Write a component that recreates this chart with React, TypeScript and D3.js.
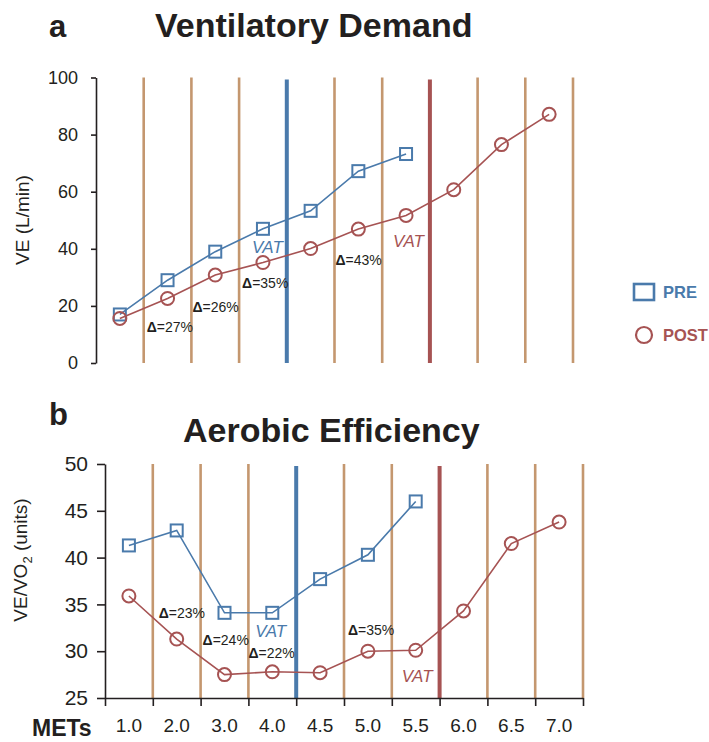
import React from 'react';
import * as d3 from 'd3';

const mets = ['1.0', '2.0', '3.0', '4.0', '4.5', '5.0', '5.5', '6.0', '6.5', '7.0'];
const vePre = [17, 29, 39, 47, 53.3, 67.2, 73.2];
const vePost = [15.6, 22.6, 30.8, 35.2, 40.1, 46.9, 51.7, 60.7, 76.5, 87.1];
const effPre = [41.3, 42.9, 34.1, 34.1, 37.7, 40.3, 46.0];
const effPost = [35.9, 31.3, 27.5, 27.8, 27.7, 30.0, 30.1, 34.3, 41.5, 43.8];
const veTicks = [0, 20, 40, 60, 80, 100];
const effTicks = [25, 30, 35, 40, 45, 50];
const veDeltas = ['Δ=27%', 'Δ=26%', 'Δ=35%', 'Δ=43%'];
const effDeltas = ['Δ=23%', 'Δ=24%', 'Δ=22%', 'Δ=35%'];
const series = ['PRE', 'POST'];
const preVatAfter = '4.0';
const postVatAfter = '5.5';

const FONT = '"Liberation Sans", Arial, Helvetica, sans-serif';
const C = { blue: '#4a7aab', red: '#a65353', tan: '#c4976f', ink: '#231f20' };

type Note = { text: string; after: number; value: number; dx: number };

interface PanelOpts {
  x0: number;
  x1: number;
  yTop: number;
  yBottom: number;
  domain: [number, number];
  ticks: number[];
  pre: number[];
  post: number[];
  tickLen: number;
  tickPad: number;
  tickFont: number;
  notes: Note[];
  vatPre: { value: number; dx: number };
  vatPost: { value: number; dx: number };
  xAxis: boolean;
}

function drawPanel(svg: d3.Selection<SVGSVGElement, unknown, null, undefined>, o: PanelOpts) {
  const band = d3.scaleBand<string>().domain(mets).range([o.x0, o.x1]).padding(0);
  const bw = band.bandwidth();
  const cx = (i: number) => (band(mets[i]) as number) + bw / 2;
  const y = d3.scaleLinear().domain(o.domain).range([o.yBottom, o.yTop]);
  const edge = (m: string) => (band(m) as number) + bw;

  const g = svg.append('g');

  // vertical stage separators
  g.append('g')
    .selectAll('line')
    .data(mets.filter(m => m !== preVatAfter && m !== postVatAfter))
    .join('line')
    .attr('x1', d => edge(d))
    .attr('x2', d => edge(d))
    .attr('y1', o.yTop)
    .attr('y2', o.yBottom)
    .attr('stroke', C.tan)
    .attr('stroke-width', 2.6);

  [
    { m: preVatAfter, color: C.blue },
    { m: postVatAfter, color: C.red }
  ].forEach(v => {
    g.append('line')
      .attr('x1', edge(v.m))
      .attr('x2', edge(v.m))
      .attr('y1', o.yTop + 2)
      .attr('y2', o.yBottom)
      .attr('stroke', v.color)
      .attr('stroke-width', 4);
  });

  // y axis
  const ya = d3.axisLeft<number>(y).tickValues(o.ticks).tickSize(o.tickLen).tickSizeOuter(0).tickPadding(o.tickPad);
  g.append('g')
    .attr('transform', `translate(${o.x0},0)`)
    .call(ya as any)
    .call(s => s.select('.domain').attr('stroke', C.ink).attr('stroke-width', 1.6))
    .call(s => s.selectAll('line').attr('stroke', C.ink).attr('stroke-width', 1.6))
    .call(s =>
      s.selectAll('text').attr('fill', C.ink).attr('font-size', o.tickFont).attr('font-family', FONT)
    );

  if (o.xAxis) {
    const xl = d3.scaleLinear().domain([0, mets.length]).range([o.x0, o.x1]);
    const xa = d3.axisBottom<number>(xl).tickValues(d3.range(0, mets.length + 1)).tickFormat(() => '').tickSize(8).tickSizeOuter(0);
    g.append('g')
      .attr('transform', `translate(0,${o.yBottom})`)
      .call(xa as any)
      .call(s => s.select('.domain').attr('stroke', C.ink).attr('stroke-width', 1.6))
      .call(s => s.selectAll('line').attr('stroke', C.ink).attr('stroke-width', 1.6));
    g.append('g')
      .selectAll('text')
      .data(mets)
      .join('text')
      .attr('x', (_, i) => cx(i))
      .attr('y', o.yBottom + 34)
      .attr('text-anchor', 'middle')
      .attr('font-family', FONT)
      .attr('font-size', 19)
      .attr('fill', C.ink)
      .text(d => d);
  }

  const line = d3
    .line<number>()
    .x((_, i) => cx(i))
    .y(d => y(d));

  g.append('path').datum(o.pre).attr('fill', 'none').attr('stroke', C.blue).attr('stroke-width', 1.6).attr('d', line);
  g.append('path').datum(o.post).attr('fill', 'none').attr('stroke', C.red).attr('stroke-width', 1.6).attr('d', line);

  const sq = 12;
  g.append('g')
    .selectAll('rect')
    .data(o.pre)
    .join('rect')
    .attr('x', (_, i) => cx(i) - sq / 2)
    .attr('y', d => y(d) - sq / 2)
    .attr('width', sq)
    .attr('height', sq)
    .attr('fill', 'none')
    .attr('stroke', C.blue)
    .attr('stroke-width', 2);

  g.append('g')
    .selectAll('circle')
    .data(o.post)
    .join('circle')
    .attr('cx', (_, i) => cx(i))
    .attr('cy', d => y(d))
    .attr('r', 6.5)
    .attr('fill', 'none')
    .attr('stroke', C.red)
    .attr('stroke-width', 2);

  // delta notes
  o.notes.forEach(n => {
    const [a, b] = n.text.split('=');
    const t = g
      .append('text')
      .attr('x', o.x0 + n.after * bw + n.dx)
      .attr('y', y(n.value))
      .attr('font-family', FONT)
      .attr('font-size', 14)
      .attr('fill', C.ink);
    t.append('tspan').attr('font-weight', 'bold').text(a);
    t.append('tspan').text('=' + b);
  });

  [
    { m: preVatAfter, color: C.blue, v: o.vatPre },
    { m: postVatAfter, color: C.red, v: o.vatPost }
  ].forEach(v => {
    g.append('text')
      .attr('x', edge(v.m) + v.v.dx)
      .attr('y', y(v.v.value))
      .attr('text-anchor', 'end')
      .attr('font-family', FONT)
      .attr('font-style', 'italic')
      .attr('font-size', 17)
      .attr('fill', v.color)
      .text('VAT');
  });
}

export default function App() {
  const svgRef = React.useRef<SVGSVGElement | null>(null);

  React.useEffect(() => {
    if (!svgRef.current) return;
    const svg = d3.select(svgRef.current);
    svg.selectAll('*').remove();

    // panel headings
    const heads = [
      { k: 'a', t: 'Ventilatory Demand', y: 37, tx: 155 },
      { k: 'b', t: 'Aerobic Efficiency', y: 425, tx: 183 }
    ];
    heads.forEach((h, i) => {
      svg.append('text').attr('x', 49).attr('y', h.y).attr('font-family', FONT).attr('font-weight', 'bold')
        .attr('font-size', 31).attr('fill', C.ink).text(h.k);
      svg.append('text').attr('x', h.tx).attr('y', i === 0 ? 37 : 442).attr('font-family', FONT).attr('font-weight', 'bold')
        .attr('font-size', 34).attr('fill', C.ink).text(h.t);
    });

    drawPanel(svg, {
      x0: 96,
      x1: 573,
      yTop: 77.5,
      yBottom: 363,
      domain: [0, 100],
      ticks: veTicks,
      pre: vePre,
      post: vePost,
      tickLen: 5,
      tickPad: 13,
      tickFont: 18,
      notes: [
        { text: veDeltas[0], after: 1, value: 11, dx: 3 },
        { text: veDeltas[1], after: 2, value: 18, dx: 1 },
        { text: veDeltas[2], after: 3, value: 26.3, dx: 3 },
        { text: veDeltas[3], after: 5, value: 34.3, dx: 1 }
      ],
      vatPre: { value: 38.5, dx: -4 },
      vatPost: { value: 40.6, dx: -6 },
      xAxis: false
    });

    drawPanel(svg, {
      x0: 105,
      x1: 583,
      yTop: 464,
      yBottom: 698,
      domain: [25, 50],
      ticks: effTicks,
      pre: effPre,
      post: effPost,
      tickLen: 8,
      tickPad: 9,
      tickFont: 21,
      notes: [
        { text: effDeltas[0], after: 1, value: 33.5, dx: 6 },
        { text: effDeltas[1], after: 2, value: 30.65, dx: 2 },
        { text: effDeltas[2], after: 3, value: 29.3, dx: 0 },
        { text: effDeltas[3], after: 5, value: 31.7, dx: 4 }
      ],
      vatPre: { value: 31.5, dx: -10 },
      vatPost: { value: 26.7, dx: -7 },
      xAxis: true
    });

    // axis titles
    svg.append('text')
      .attr('transform', 'translate(29,220) rotate(-90)')
      .attr('text-anchor', 'middle')
      .attr('font-family', FONT)
      .attr('font-size', 19)
      .attr('fill', C.ink)
      .text('VE (L/min)');

    const yt = svg.append('text')
      .attr('transform', 'translate(27,560) rotate(-90)')
      .attr('text-anchor', 'middle')
      .attr('font-family', FONT)
      .attr('font-size', 19)
      .attr('fill', C.ink);
    yt.append('tspan').text('VE/VO');
    yt.append('tspan').attr('font-size', 13).attr('dy', 5).text('2');
    yt.append('tspan').attr('dy', -5).text(' (units)');

    svg.append('text').attr('x', 32).attr('y', 736).attr('font-family', FONT).attr('font-weight', 'bold')
      .attr('font-size', 23).attr('fill', C.ink).text('METs');

    // legend
    const lg = svg.append('g').attr('font-family', FONT).attr('font-weight', 'bold').attr('font-size', 16.5);
    lg.append('rect').attr('x', 634).attr('y', 284).attr('width', 20).attr('height', 16)
      .attr('fill', 'none').attr('stroke', C.blue).attr('stroke-width', 2.6);
    lg.append('text').attr('x', 663).attr('y', 298).attr('fill', C.blue).text(series[0]);
    lg.append('circle').attr('cx', 644).attr('cy', 335).attr('r', 8)
      .attr('fill', 'none').attr('stroke', C.red).attr('stroke-width', 2.2);
    lg.append('text').attr('x', 663).attr('y', 341).attr('fill', C.red).text(series[1]);
  }, []);

  return (
    <svg
      ref={svgRef}
      width={709}
      height={742}
      style={{ position: 'absolute', left: 0, top: 0, background: '#fff' }}
    />
  );
}
